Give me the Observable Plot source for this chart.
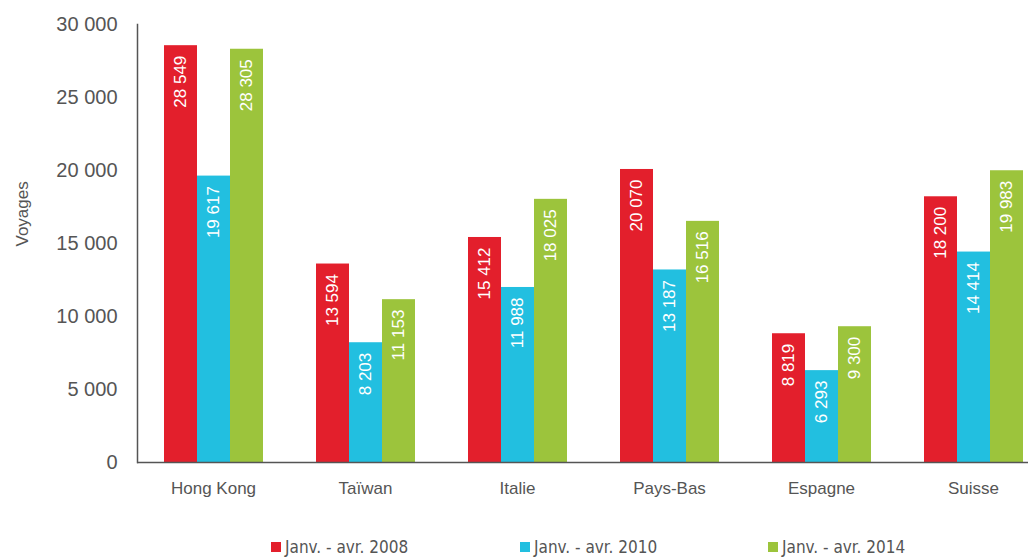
<!DOCTYPE html>
<html><head><meta charset="utf-8">
<script src="https://cdn.jsdelivr.net/npm/d3@7"></script>
<script src="https://cdn.jsdelivr.net/npm/@observablehq/plot@0.6"></script>
<style>
body{margin:0;background:#fff;font-family:"Liberation Sans",Arial,sans-serif;}
#legend{position:relative;height:37px;font-family:"Liberation Sans Narrow","DejaVu Sans Condensed","Liberation Sans",sans-serif;font-size:17px;color:#555;}
.item{position:absolute;top:17px;display:flex;align-items:center;white-space:nowrap;}
.sw{width:10px;height:10px;margin-right:4px;}
</style></head>
<body><div id="chart"></div><div id="legend"></div>
<script>
const countries = ["Hong Kong","Taïwan","Italie","Pays-Bas","Espagne","Suisse"];
const seriesNames = ["Janv. - avr. 2008","Janv. - avr. 2010","Janv. - avr. 2014"];
const colors = ["#e31f2c","#22bfe0","#9cc43c"];
const v2008 = [28549,13594,15412,20070,8819,18200];
const v2010 = [19617,8203,11988,13187,6293,14414];
const v2014 = [28305,11153,18025,16516,9300,19983];
const yTicks = [0,5000,10000,15000,20000,25000,30000];

const seriesValues = [v2008, v2010, v2014];
const data = [];
countries.forEach((c,i)=>seriesNames.forEach((s,j)=>data.push({country:c, series:s, value:seriesValues[j][i]})));
const fmt = d3.formatLocale({thousands:" ", grouping:[3], decimal:",", currency:["",""]}).format(",d");

const chart = Plot.plot({
  width:1028, height:520,
  marginLeft:137, marginRight:-21, marginTop:24, marginBottom:58,
  style:{fontFamily:"'Liberation Sans',Arial,sans-serif", color:"#555"},
  fx:{domain:countries, padding:0, label:null},
  x:{domain:seriesNames, paddingInner:0, paddingOuter:0.76, axis:null},
  y:{domain:[0,30000], ticks:yTicks, label:null},
  color:{domain:seriesNames, range:colors},
  marks:[
    Plot.barY(data,{fx:"country", x:"series", y:"value", fill:"series"}),
    Plot.text(data,{fx:"country", x:"series", y:"value", text:d=>fmt(d.value), rotate:-90, textAnchor:"end", lineAnchor:"middle", dy:10, fill:"white", fontSize:17}),
    Plot.ruleY([0],{stroke:"#555", strokeWidth:1.5}),
    Plot.frame({anchor:"left", facetAnchor:"left", stroke:"#555", strokeWidth:1.5}),
    Plot.axisY({ticks:yTicks, tickSize:0, tickPadding:20, tickFormat:fmt, fontSize:20, label:null, facetAnchor:"left"}),
    Plot.axisFx({anchor:"bottom", tickSize:0, tickPadding:19, fontSize:17, label:null}),
    Plot.text(["Voyages"],{frameAnchor:"left", dx:-115, dy:3, rotate:-90, fontSize:17, fill:"#555", facetAnchor:"left"})
  ]
});
document.getElementById("chart").appendChild(chart);

const legend = document.getElementById("legend");
const lefts = [271,520,768];
seriesNames.forEach((s,i)=>{
  const it=document.createElement("div"); it.className="item"; it.style.left=lefts[i]+"px";
  it.innerHTML=`<span class="sw" style="background:${colors[i]}"></span><span>${s}</span>`;
  legend.appendChild(it);
});
</script></body></html>
